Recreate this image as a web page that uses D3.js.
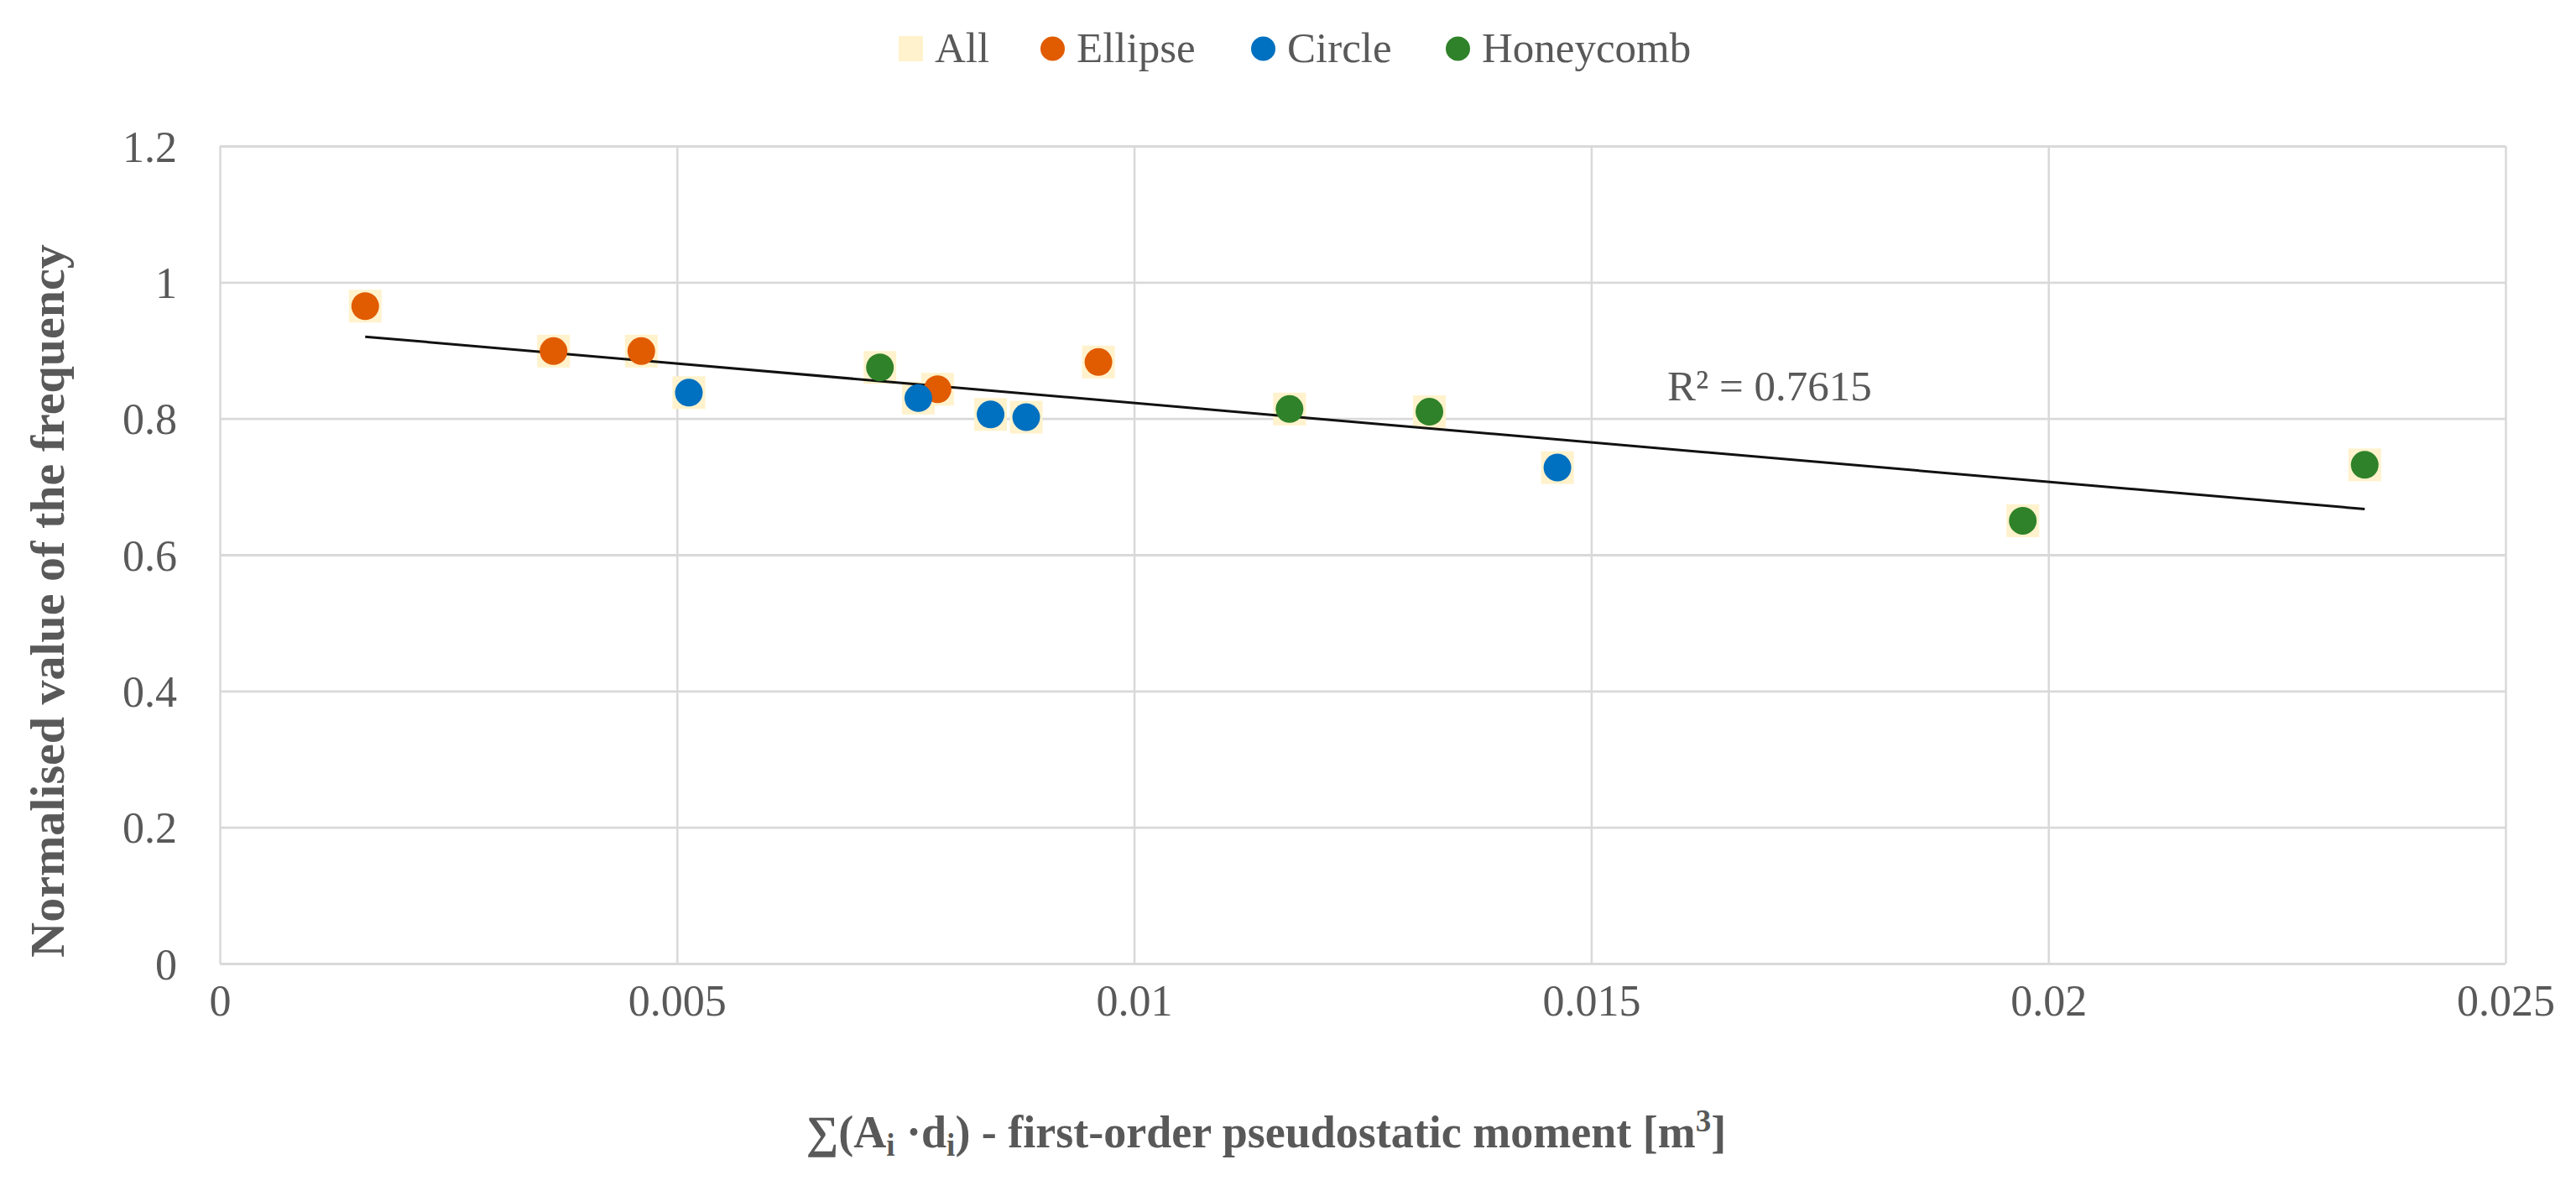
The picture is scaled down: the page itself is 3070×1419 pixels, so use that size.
<!DOCTYPE html>
<html>
<head>
<meta charset="utf-8">
<script src="https://cdn.jsdelivr.net/npm/d3@7.9.0/dist/d3.min.js"></script>
<style>
  html, body { margin: 0; padding: 0; background: #fff; }
  svg { display: block; }
  text { font-family: "Liberation Serif", "DejaVu Serif", serif; fill: #595959; }
</style>
</head>
<body>
<svg id="chart" width="3070" height="1419"></svg>
<script>
// data
const ellipseX = [0.00159, 0.00365, 0.00461, 0.00785, 0.00961];
const ellipseY = [0.965, 0.899, 0.899, 0.843, 0.883];
const circleX = [0.00513, 0.00764, 0.00843, 0.00882, 0.01463];
const circleY = [0.838, 0.830, 0.806, 0.802, 0.728];
const honeyX = [0.00722, 0.01170, 0.01323, 0.01972, 0.02346];
const honeyY = [0.875, 0.814, 0.810, 0.650, 0.732];

const xTicks = [0, 0.005, 0.01, 0.015, 0.02, 0.025];
const yTicks = [0, 0.2, 0.4, 0.6, 0.8, 1, 1.2];
const legendLabels = ['All', 'Ellipse', 'Circle', 'Honeycomb'];
const r2Label = 'R² = 0.7615';

const colors = { All: '#FFF2CC', Ellipse: '#E15B00', Circle: '#0070C0', Honeycomb: '#2F8229' };

const series = [
  { name: 'Ellipse', xs: ellipseX, ys: ellipseY },
  { name: 'Circle', xs: circleX, ys: circleY },
  { name: 'Honeycomb', xs: honeyX, ys: honeyY }
];

const svg = d3.select('#chart');
const margin = { left: 262, right: 3070 - 2986, top: 174, bottom: 1419 - 1148 };
const width = 3070 - margin.left - margin.right;
const height = 1419 - margin.top - margin.bottom;

const x = d3.scaleLinear().domain([0, 0.025]).range([0, width]);
const y = d3.scaleLinear().domain([0, 1.2]).range([height, 0]);

const g = svg.append('g').attr('transform', `translate(${margin.left},${margin.top})`);

// gridlines
const gx = g.append('g')
  .attr('transform', `translate(0,${height})`)
  .call(d3.axisBottom(x).tickValues(xTicks).tickSize(-height).tickFormat(d => String(d)));
gx.select('.domain').remove();
gx.selectAll('line').attr('stroke', '#D9D9D9').attr('stroke-width', 2.5);
gx.selectAll('text')
  .attr('y', 62).attr('dy', 0)
  .style('font-size', '52px')
  .style('font-family', '"Liberation Serif", serif')
  .attr('fill', '#595959');

const gy = g.append('g')
  .call(d3.axisLeft(y).tickValues(yTicks).tickSize(-width).tickFormat(d => String(d)));
gy.select('.domain').remove();
gy.selectAll('line').attr('stroke', '#D9D9D9').attr('stroke-width', 2.8);
gy.selectAll('text')
  .attr('x', -51).attr('dy', '0.35em')
  .style('font-size', '52px')
  .style('font-family', '"Liberation Serif", serif')
  .attr('fill', '#595959');

// all points (background squares)
const allPts = [];
series.forEach(s => s.xs.forEach((v, i) => allPts.push({ x: v, y: s.ys[i], name: s.name })));

const sq = 39;
g.append('g').selectAll('rect').data(allPts).join('rect')
  .attr('x', d => x(d.x) - sq / 2)
  .attr('y', d => y(d.y) - sq / 2)
  .attr('width', sq).attr('height', sq)
  .attr('fill', colors.All);

// linear trendline over all points
const mx = d3.mean(allPts, d => d.x), my = d3.mean(allPts, d => d.y);
const slope = d3.sum(allPts, d => (d.x - mx) * (d.y - my)) / d3.sum(allPts, d => (d.x - mx) ** 2);
const icpt = my - slope * mx;
const [x0, x1] = d3.extent(allPts, d => d.x);
g.append('path')
  .datum([x0, x1])
  .attr('d', d3.line().x(d => x(d)).y(d => y(icpt + slope * d)))
  .attr('stroke', '#111').attr('stroke-width', 3).attr('fill', 'none');

// subset markers
series.forEach(s => {
  g.append('g').selectAll('circle').data(s.xs.map((v, i) => [v, s.ys[i]])).join('circle')
    .attr('cx', d => x(d[0]))
    .attr('cy', d => y(d[1]))
    .attr('r', 16.5)
    .attr('fill', colors[s.name]);
});

// R² label
g.append('text')
  .attr('x', 1987 - margin.left).attr('y', 477 - margin.top)
  .style('font-size', '51px')
  .text(r2Label);

// axis titles
svg.append('text')
  .attr('transform', 'translate(76,716) rotate(-90)')
  .attr('text-anchor', 'middle')
  .style('font-size', '58px').style('font-weight', 'bold')
  .text('Normalised value of the frequency');

const xt = svg.append('text')
  .attr('x', 1509).attr('y', 1367)
  .attr('text-anchor', 'middle')
  .style('font-size', '54px').style('font-weight', 'bold');
xt.append('tspan').text('∑(A');
xt.append('tspan').attr('dy', 10).style('font-size', '37px').text('i');
xt.append('tspan').attr('dy', -10).text(' ·d');
xt.append('tspan').attr('dy', 10).style('font-size', '37px').text('i');
xt.append('tspan').attr('dy', -10).text(') - first-order pseudostatic moment [m');
xt.append('tspan').attr('dy', -19).style('font-size', '37px').text('3');
xt.append('tspan').attr('dy', 19).text(']');

// legend
const legendX = [1071, 1240, 1491, 1723];
const leg = svg.append('g');
legendLabels.forEach((lab, i) => {
  const item = leg.append('g').attr('transform', `translate(${legendX[i]},58)`);
  if (lab === 'All') {
    item.append('rect').attr('x', 0).attr('y', -15).attr('width', 29).attr('height', 30).attr('fill', colors.All);
  } else {
    item.append('circle').attr('cx', 14.5).attr('cy', 0).attr('r', 14.5).attr('fill', colors[lab]);
  }
  item.append('text').attr('x', 43).attr('y', 16).style('font-size', '51px').text(lab);
});
</script>
</body>
</html>
